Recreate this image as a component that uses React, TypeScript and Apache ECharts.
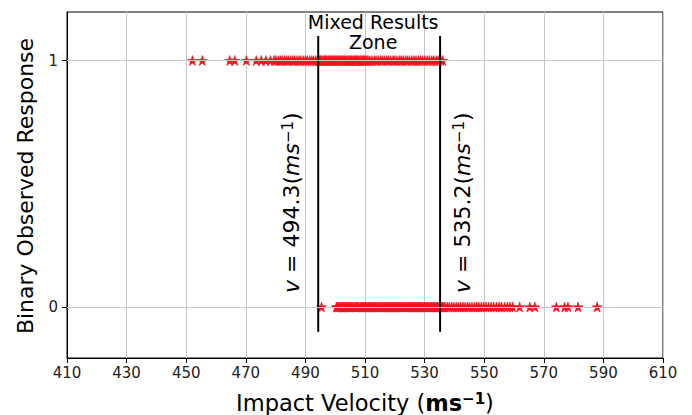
import React, { useEffect, useRef } from "react";
import * as echarts from "echarts";

// ---- data ----
const xTickValues = [410, 430, 450, 470, 490, 510, 530, 550, 570, 590, 610];
const yTickValues = [0, 1];

// impact velocities with observed response = 1
const responseOne = [
  452.1, 455.4, 464.6, 466.3, 470.2, 473.5, 475.2, 476.7, 478.3,
  479.5, 480.1, 480.9, 481.6, 482.2, 483.0, 483.7, 484.3, 485.1, 485.8,
  486.4, 487.2, 487.9, 488.5, 489.3, 490.0, 490.6, 491.4, 492.1, 492.7,
  493.5, 494.2, 494.8, 495.5, 496.3, 496.9, 497.6, 498.4, 499.0, 499.7,
  500.5, 501.1, 501.8, 502.6, 503.2, 503.9, 504.7, 505.3, 506.0, 506.8,
  507.4, 508.1, 508.9, 509.5, 510.2, 511.0, 511.6, 512.3, 513.1, 513.7,
  514.4, 515.2, 515.8, 516.5, 517.3, 517.9, 518.6, 519.4, 520.0, 520.7,
  521.5, 522.1, 522.8, 523.6, 524.2, 524.9, 525.7, 526.4, 527.1, 527.9,
  528.6, 529.3, 530.1, 530.9, 531.6, 532.4, 533.1, 533.9, 534.6, 535.4, 536.1,
  494.5, 495.1, 495.9, 496.6, 497.2, 498.0, 498.7, 499.3, 500.1, 500.8,
  501.5, 502.2, 502.9, 503.6, 504.3, 505.0, 505.6, 506.4, 507.1, 507.7,
  508.5, 509.2, 509.8, 510.6,
];

// impact velocities with observed response = 0
const responseZero = [
  495.4,
  500.4, 501.0, 501.7, 502.5, 503.1, 503.8, 504.6, 505.2, 505.9, 506.7,
  507.3, 508.0, 508.8, 509.4, 510.1, 510.9, 511.5, 512.2, 513.0, 513.6,
  514.3, 515.1, 515.7, 516.4, 517.2, 517.8, 518.5, 519.3, 519.9, 520.6,
  521.4, 522.0, 522.7, 523.5, 524.1, 524.8, 525.6, 526.2, 526.9, 527.7,
  528.3, 529.0, 529.8, 530.4, 531.1, 531.9, 532.5, 533.2, 534.0, 534.6,
  535.3, 536.1, 536.8, 537.6, 538.3, 539.1, 539.8, 540.6, 541.3, 542.1,
  542.9, 543.6, 544.4, 545.1, 545.9, 546.7, 547.5, 548.2, 549.0, 549.8,
  550.6, 551.5, 552.3, 553.2, 554.1, 555.0, 555.8, 556.9, 557.8, 558.7,
  559.6, 561.9, 565.3, 567.0, 574.2, 577.0, 578.1, 581.5, 587.9,
  500.7, 501.3, 502.1, 502.8, 503.5, 504.2, 504.9, 505.6, 506.3, 507.0,
  507.6, 508.4, 509.1, 509.7, 510.5, 511.2, 511.9, 512.6, 513.3, 514.0,
  514.7, 515.4, 516.1, 516.8, 517.5, 518.2, 518.9, 519.6, 520.3, 521.0,
  521.7, 522.4, 523.1, 523.8, 524.5, 525.2, 525.9, 526.6, 527.3, 528.0,
  528.7, 529.4, 530.1, 530.8, 531.5, 532.2, 532.9, 533.6, 534.3, 535.0,
  535.7, 536.4,
];

const lowerBound = 494.3;
const upperBound = 535.2;
const boundSpan = [-0.1, 1.1];

const STAR =
  "path://M0,-10L2.245,-3.09L9.51,-3.09L3.633,1.18L5.88,8.09L0,3.82L-5.88,8.09L-3.633,1.18L-9.51,-3.09L-2.245,-3.09Z";

const FONT = "DejaVu Sans";

export default function App() {
  const ref = useRef<HTMLDivElement>(null);

  useEffect(() => {
    if (!ref.current) return;
    const chart = echarts.init(ref.current, undefined, { renderer: "svg" });

    const starStyle = { color: "#f0141e", opacity: 1, borderColor: "#f0141e", borderWidth: 0.6 };

    const option: any = {
      animation: false,
      backgroundColor: "#fff",
      grid: {
        left: 67,
        right: 29,
        top: 12,
        bottom: 57,
        show: true,
        borderColor: "#000",
        borderWidth: 1,
        backgroundColor: "transparent",
      },
      xAxis: {
        type: "value",
        min: 410,
        max: 610,
        interval: 20,
        axisLine: { show: true, onZero: false, lineStyle: { color: "#000", width: 1 } },
        axisTick: { show: true, length: 5, lineStyle: { color: "#000" } },
        axisLabel: {
          color: "#222",
          fontFamily: FONT,
          fontSize: 15,
          margin: 7,
          customValues: xTickValues,
        },
        splitLine: { show: true, lineStyle: { color: "#c8c8c8", width: 1 } },
      },
      yAxis: {
        type: "value",
        min: -0.207,
        max: 1.197,
        axisLine: { show: true, onZero: false, lineStyle: { color: "#000", width: 1 } },
        axisTick: {
          show: true,
          length: 5,
          lineStyle: { color: "#000" },
          customValues: yTickValues,
        },
        axisLabel: {
          color: "#222",
          fontFamily: FONT,
          fontSize: 15,
          margin: 9,
          customValues: yTickValues,
        },
        splitLine: { show: false },
      },
      series: [
        {
          type: "line",
          data: [],
          z: 1,
          silent: true,
          markLine: {
            silent: true,
            symbol: "none",
            label: { show: false },
            lineStyle: { color: "#c8c8c8", width: 1, type: "solid" },
            data: yTickValues.map((v) => ({ yAxis: v })),
          },
        },
        {
          type: "scatter",
          data: responseOne.map((v) => [v, 1]),
          symbol: STAR,
          symbolSize: 10,
          itemStyle: starStyle,
          z: 2,
        },
        {
          type: "scatter",
          data: responseZero.map((v) => [v, 0]),
          symbol: STAR,
          symbolSize: 10,
          itemStyle: starStyle,
          z: 2,
        },
        {
          type: "line",
          data: boundSpan.map((y) => [lowerBound, y]),
          symbol: "none",
          lineStyle: { color: "#000", width: 2 },
          z: 3,
        },
        {
          type: "line",
          data: boundSpan.map((y) => [upperBound, y]),
          symbol: "none",
          lineStyle: { color: "#000", width: 2 },
          z: 3,
        },
      ],
    };
    chart.setOption(option);

    const px = (x: number, y: number) =>
      chart.convertToPixel({ xAxisIndex: 0, yAxisIndex: 0 }, [x, y]) as number[];

    const lowAnchor = px(lowerBound, 0);
    const highAnchor = px(upperBound, 0);
    const midX = (lowAnchor[0] + highAnchor[0]) / 2 - 6;

    const boundRich = {
      i: { fontStyle: "italic", fontFamily: FONT, fontSize: 22, fill: "#000" },
      s: { fontFamily: FONT, fontSize: 15, verticalAlign: "top", fill: "#000" },
    };

    chart.setOption({
      graphic: [
        {
          type: "text",
          x: midX,
          y: 22,
          style: {
            text: "Mixed Results",
            fontFamily: FONT,
            fontSize: 19,
            fill: "#000",
            align: "center",
            verticalAlign: "middle",
          },
          z: 10,
        },
        {
          type: "text",
          x: midX,
          y: 42,
          style: {
            text: "Zone",
            fontFamily: FONT,
            fontSize: 19,
            fill: "#000",
            align: "center",
            verticalAlign: "middle",
          },
          z: 10,
        },
        {
          type: "text",
          x: lowAnchor[0] - 27,
          y: lowAnchor[1] - 14,
          rotation: Math.PI / 2,
          style: {
            text: "{i|v} = " + lowerBound.toFixed(1) + "({i|ms}{s|−1})",
            rich: boundRich,
            fontFamily: FONT,
            fontSize: 22,
            fill: "#000",
            align: "left",
            verticalAlign: "middle",
          },
          z: 10,
        },
        {
          type: "text",
          x: highAnchor[0] + 22,
          y: highAnchor[1] - 14,
          rotation: Math.PI / 2,
          style: {
            text: "{i|v} = " + upperBound.toFixed(1) + "({i|ms}{s|−1})",
            rich: boundRich,
            fontFamily: FONT,
            fontSize: 22,
            fill: "#000",
            align: "left",
            verticalAlign: "middle",
          },
          z: 10,
        },
        {
          type: "text",
          x: 365,
          y: 403,
          style: {
            text: "Impact Velocity ({b|ms}{bs|−1})",
            rich: {
              b: { fontWeight: "bold", fontFamily: FONT, fontSize: 22.5, fill: "#000" },
              bs: { fontWeight: "bold", fontFamily: FONT, fontSize: 15, verticalAlign: "top", fill: "#000" },
            },
            fontFamily: FONT,
            fontSize: 22.5,
            fill: "#000",
            align: "center",
            verticalAlign: "middle",
          },
        },
        {
          type: "text",
          x: 25,
          y: 186,
          rotation: Math.PI / 2,
          style: {
            text: "Binary Observed Response",
            fontFamily: FONT,
            fontSize: 22,
            fill: "#000",
            align: "center",
            verticalAlign: "middle",
          },
        },
      ],
    });

    return () => chart.dispose();
  }, []);

  return (
    <div
      ref={ref}
      style={{ position: "fixed", left: 0, top: 0, width: 692, height: 415 }}
    />
  );
}
